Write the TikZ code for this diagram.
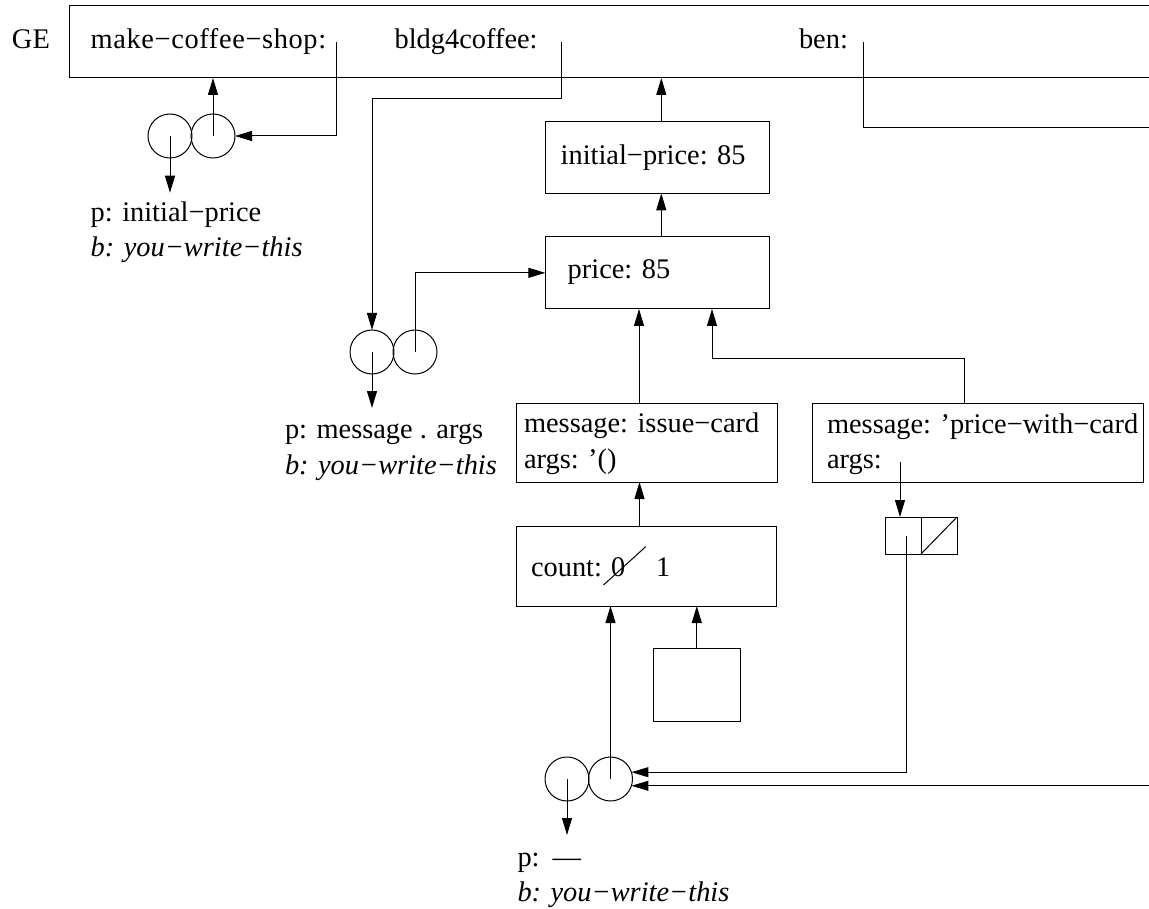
\documentclass[tikz,border=0pt]{standalone}
\usepackage{fontspec}
\setmainfont{Liberation Serif}
\usetikzlibrary{arrows.meta}
\begin{document}
\begin{tikzpicture}[x=1pt,y=-1pt,line width=1pt,
  every node/.style={inner sep=0pt,outer sep=0pt},
  box/.style={draw,rectangle,anchor=north west},
  ring/.style={draw,circle,minimum size=44pt},
  lbl/.style={anchor=base west,font=\fontsize{28.4}{34}\selectfont},
  ilbl/.style={anchor=base west,font=\fontsize{28.4}{34}\selectfont\itshape},
  arr/.style={-{Triangle[length=17pt,width=10pt]}}]
\clip (0,0) rectangle (1149,909);
% global environment frame
\node[box,minimum width=1100pt,minimum height=72.3pt] (ge) at (69,5.7) {};
\node[lbl] (getxt) at (12,49) {GE};
\node[lbl] (mcs) at (90.7,49) {\addfontfeature{LetterSpace=2.2}make−coffee−shop:};
\node[lbl] (bldg) at (394.6,49) {bldg4coffee:};
\node[lbl] (bentxt) at (799,49) {ben:};
\coordinate (mcsP) at (336,42);
\coordinate (bldgP) at (561,42);
\coordinate (benP) at (863,42);
\coordinate (benR) at (1160,128);
\coordinate (bend1) at (372,99);
\coordinate (bend2) at (712,359);
\coordinate (offR) at (1160,786);
% procedure pairs
\node[ring] (p1l) at (170,136) {};
\node[ring] (p1r) at (213,136) {};
\node[ring] (p2l) at (372,352) {};
\node[ring] (p2r) at (415,352) {};
\node[ring] (p3l) at (567,779) {};
\node[ring] (p3r) at (610.5,779) {};
\coordinate (p1tip) at (170,192.7);
\coordinate (p2tip) at (372,408);
\coordinate (p3tip) at (567,835);
\node[lbl] (p1p) at (90.7,221.7) {p: initial−price};
\node[ilbl] (p1b) at (90.7,256.7) {b: you−write−this};
\node[lbl] (p2p) at (285,438) {p: message . args};
\node[ilbl] (p2b) at (285,474) {b: you−write−this};
\node[lbl] (p3p) at (517.5,866.7) {p:\hspace{13pt}—};
\node[ilbl] (p3b) at (517.5,901.7) {b: you−write−this};
% frames
\node[box,minimum width=224pt,minimum height=71.6pt] (initp) at (545.3,121.7) {};
\node[lbl] (initpt) at (560.7,165) {initial−price: 85};
\node[box,minimum width=224pt,minimum height=72.3pt] (price) at (545.3,236.7) {};
\node[lbl] (pricet) at (567.7,279) {price: 85};
\node[box,minimum width=261pt,minimum height=79pt] (issue) at (516,403) {};
\node[lbl] (issuet1) at (524,432) {message: issue−card};
\node[lbl] (issuet2) at (524,468) {args: '()};
\node[box,minimum width=331pt,minimum height=79pt] (pwc) at (812.5,403) {};
\node[lbl] (pwct1) at (827,433) {message: 'price−with−card};
\node[lbl] (pwct2) at (827,468) {args:};
\coordinate (argsP) at (900,462);
\node[box,minimum width=36pt,minimum height=37pt] (consA) at (885,517) {};
\node[box,minimum width=36pt,minimum height=37pt] (consD) at (921,517) {};
\draw (consD.south west) -- (consD.north east);
\node[box,minimum width=260pt,minimum height=80pt] (count) at (516.5,526) {};
\node[lbl] (countt) at (531,576.7) {count:};
\node[lbl] (zero) at (611,576.7) {0};
\node[lbl] (one) at (656,576.7) {1};
\draw (603.5,585) -- (645.7,546.7);
\node[box,minimum width=86.4pt,minimum height=72.3pt] (small) at (653.6,648.7) {};
% connectors
\draw[arr] (mcsP) |- (p1r.east);
\draw[arr] (p1r.center) -- (p1r.center |- ge.south);
\draw[arr] (p1l.center) -- (p1tip);
\draw[arr] (bldgP) |- (bend1) -- (p2l.north);
\draw[arr] (p2r.center) |- (price.west);
\draw[arr] (p2l.center) -- (p2tip);
\draw (benP) |- (benR);
\draw[arr] ([xshift=4pt]initp.north) -- ([xshift=4pt]initp.north |- ge.south);
\draw[arr] ([xshift=4pt]price.north) -- ([xshift=4pt]initp.south);
\draw[arr] ([xshift=-7.5pt]issue.north) -- ([xshift=-7.5pt]issue.north |- price.south);
\draw[arr] ([xshift=-14pt]pwc.north) |- (bend2) -- (bend2 |- price.south);
\draw[arr] ([xshift=-7pt]count.north) -- ([xshift=-7pt]count.north |- issue.south);
\draw[arr] (argsP) -- (argsP |- consA.north);
\draw[arr] ([xshift=3pt]consA.center) |- (p3r.18);
\draw[arr] (offR |- p3r.-18) -- (p3r.-18);
\draw[arr] (p3r.center) -- (p3r.center |- count.south);
\draw[arr] (small.north) -- (small.north |- count.south);
\draw[arr] (p3l.center) -- (p3tip);
\end{tikzpicture}
\end{document}
